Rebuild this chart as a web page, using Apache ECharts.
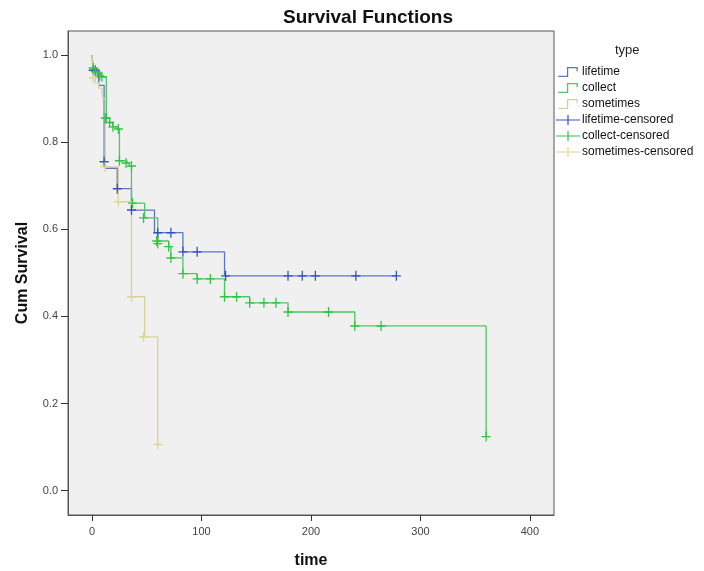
<!DOCTYPE html>
<html>
<head>
<meta charset="utf-8">
<script src="https://cdn.jsdelivr.net/npm/echarts@6/dist/echarts.min.js"></script>
<style>
  html, body { margin: 0; padding: 0; background: #ffffff; }
  #chart { width: 704px; height: 571px; }
</style>
</head>
<body>
<div id="chart"></div>
<script>
// ---- data ----
const xTicks = [0, 100, 200, 300, 400];
const yTicks = [0.0, 0.2, 0.4, 0.6, 0.8, 1.0];

// step curves: times of events and the survival just after each event
const lifetimeTime = [0, 1, 6, 11, 12, 23, 36, 57, 83, 121, 278];
const lifetimeSurv = [1.0, 0.965, 0.93, 0.755, 0.74, 0.693, 0.644, 0.592, 0.548, 0.493, 0.493];

const collectTime = [0, 1, 5, 8, 13, 16, 19, 23, 25, 32, 34, 36, 48, 60, 70, 72, 83, 96, 121, 144, 179, 240, 360];
const collectSurv = [1.0, 0.97, 0.958, 0.95, 0.855, 0.845, 0.835, 0.83, 0.757, 0.752, 0.745, 0.66, 0.626, 0.573, 0.56, 0.534, 0.498, 0.486, 0.445, 0.431, 0.41, 0.378, 0.124];

const sometimesTime = [0, 1, 3, 6, 9, 10, 12, 24, 36, 48, 60];
const sometimesSurv = [1.0, 0.947, 0.936, 0.924, 0.913, 0.9, 0.743, 0.663, 0.445, 0.353, 0.106];

// censored marks
const lifetimeCensTime = [1, 3, 11, 23, 36, 60, 72, 83, 96, 122, 179, 192, 204, 241, 278];
const lifetimeCensSurv = [0.965, 0.965, 0.755, 0.693, 0.644, 0.592, 0.592, 0.548, 0.548, 0.493, 0.493, 0.493, 0.493, 0.493, 0.493];

const collectCensTime = [1, 3, 5, 7, 9, 12, 13, 16, 19, 24, 25, 31, 36, 37, 47, 59, 60, 70, 72, 83, 96, 108, 121, 132, 144, 157, 168, 179, 216, 240, 264, 360];
const collectCensSurv = [0.97, 0.962, 0.958, 0.952, 0.95, 0.855, 0.855, 0.845, 0.835, 0.83, 0.757, 0.752, 0.745, 0.66, 0.626, 0.573, 0.567, 0.56, 0.534, 0.498, 0.486, 0.486, 0.445, 0.445, 0.431, 0.431, 0.431, 0.41, 0.41, 0.378, 0.378, 0.124];

const sometimesCensTime = [1, 12, 24, 36, 47, 60];
const sometimesCensSurv = [0.947, 0.743, 0.663, 0.445, 0.353, 0.106];

const seriesNames = ['lifetime', 'collect', 'sometimes', 'lifetime-censored', 'collect-censored', 'sometimes-censored'];

// ---- build ----
function zip(a, b) { return a.map((v, i) => [v, b[i]]); }

const stepIcon = 'path://M0,8 L8,8 L8,0 L18,0 L18,4 L16.8,4 L16.8,1.2 L9.2,1.2 L9.2,9.2 L0,9.2 Z';
const plusIcon = 'path://M0,4.4 L11.4,4.4 L11.4,0 L12.6,0 L12.6,4.4 L24,4.4 L24,5.6 L12.6,5.6 L12.6,10 L11.4,10 L11.4,5.6 L0,5.6 Z';
const plusMark = 'path://M0,4.3 L4.3,4.3 L4.3,0 L5.7,0 L5.7,4.3 L10,4.3 L10,5.7 L5.7,5.7 L5.7,10 L4.3,10 L4.3,5.7 L0,5.7 Z';

const lineColors = ['#5a76c8', '#4cc860', '#d8d19e'];
const markColors = ['#3450c0', '#2fc443', '#e0d68e'];

const FONT = 'Liberation Sans, Arial, sans-serif';
const chart = echarts.init(document.getElementById('chart'), null, { renderer: 'canvas' });

function stepSeries(name, t, s, color) {
  return {
    name: name, type: 'line', step: 'end', data: zip(t, s),
    showSymbol: false, symbol: 'none', silent: true,
    lineStyle: { color: color, width: 1.3 }, itemStyle: { color: color },
    z: 2
  };
}
function censSeries(name, t, s, color) {
  return {
    name: name, type: 'scatter', data: zip(t, s),
    symbol: plusMark, symbolSize: [9, 10], silent: true,
    itemStyle: { color: color, opacity: 1 }, z: 3
  };
}

const option = {
  backgroundColor: '#ffffff',
  animation: false,
  textStyle: { fontFamily: FONT },
  title: {
    text: 'Survival Functions',
    left: 363, top: 3, textAlign: 'center',
    textStyle: { fontSize: 19, fontWeight: 'bold', color: '#111', fontFamily: FONT }
  },
  grid: {
    left: 68, right: 150, top: 31, bottom: 56,
    outerBoundsMode: 'none', containLabel: false,
    show: true, backgroundColor: '#f0f0f0', borderColor: '#555', borderWidth: 1
  },
  legend: {
    orient: 'vertical', left: 556, top: 66,
    itemWidth: 24, itemHeight: 10, itemGap: 4, padding: 0,
    textStyle: { fontSize: 12, color: '#111', padding: [0, 0, 0, -3], fontFamily: FONT },
    data: [
      { name: seriesNames[0], icon: stepIcon },
      { name: seriesNames[1], icon: stepIcon },
      { name: seriesNames[2], icon: stepIcon },
      { name: seriesNames[3], icon: plusIcon },
      { name: seriesNames[4], icon: plusIcon },
      { name: seriesNames[5], icon: plusIcon }
    ]
  },
  graphic: [{
    type: 'text', left: 615, top: 44, silent: true,
    style: { text: 'type', fontSize: 13, fill: '#222', fontFamily: FONT }
  }],
  xAxis: {
    type: 'value', min: -22, max: 422,
    name: 'time', nameLocation: 'middle', nameGap: 38,
    nameTextStyle: { fontSize: 16, fontWeight: 'bold', color: '#111' },
    splitLine: { show: false },
    axisLine: { show: true, onZero: false, lineStyle: { color: '#555' } },
    axisTick: { show: true, length: 6, customValues: xTicks, lineStyle: { color: '#333' } },
    axisLabel: { customValues: xTicks, fontSize: 11, color: '#444', margin: 11 }
  },
  yAxis: {
    type: 'value', min: -0.056, max: 1.055,
    name: 'Cum Survival', nameLocation: 'middle', nameGap: 37,
    nameTextStyle: { fontSize: 16, fontWeight: 'bold', color: '#111' },
    splitLine: { show: false },
    axisLine: { show: true, onZero: false, lineStyle: { color: '#555' } },
    axisTick: { show: true, length: 7, customValues: yTicks, lineStyle: { color: '#333' } },
    axisLabel: { customValues: yTicks, fontSize: 11, color: '#444', margin: 10, formatter: v => v.toFixed(1) }
  },
  series: [
    stepSeries(seriesNames[0], lifetimeTime, lifetimeSurv, lineColors[0]),
    stepSeries(seriesNames[1], collectTime, collectSurv, lineColors[1]),
    stepSeries(seriesNames[2], sometimesTime, sometimesSurv, lineColors[2]),
    censSeries(seriesNames[3], lifetimeCensTime, lifetimeCensSurv, markColors[0]),
    censSeries(seriesNames[4], collectCensTime, collectCensSurv, markColors[1]),
    censSeries(seriesNames[5], sometimesCensTime, sometimesCensSurv, markColors[2])
  ]
};
chart.setOption(option);
</script>
</body>
</html>
